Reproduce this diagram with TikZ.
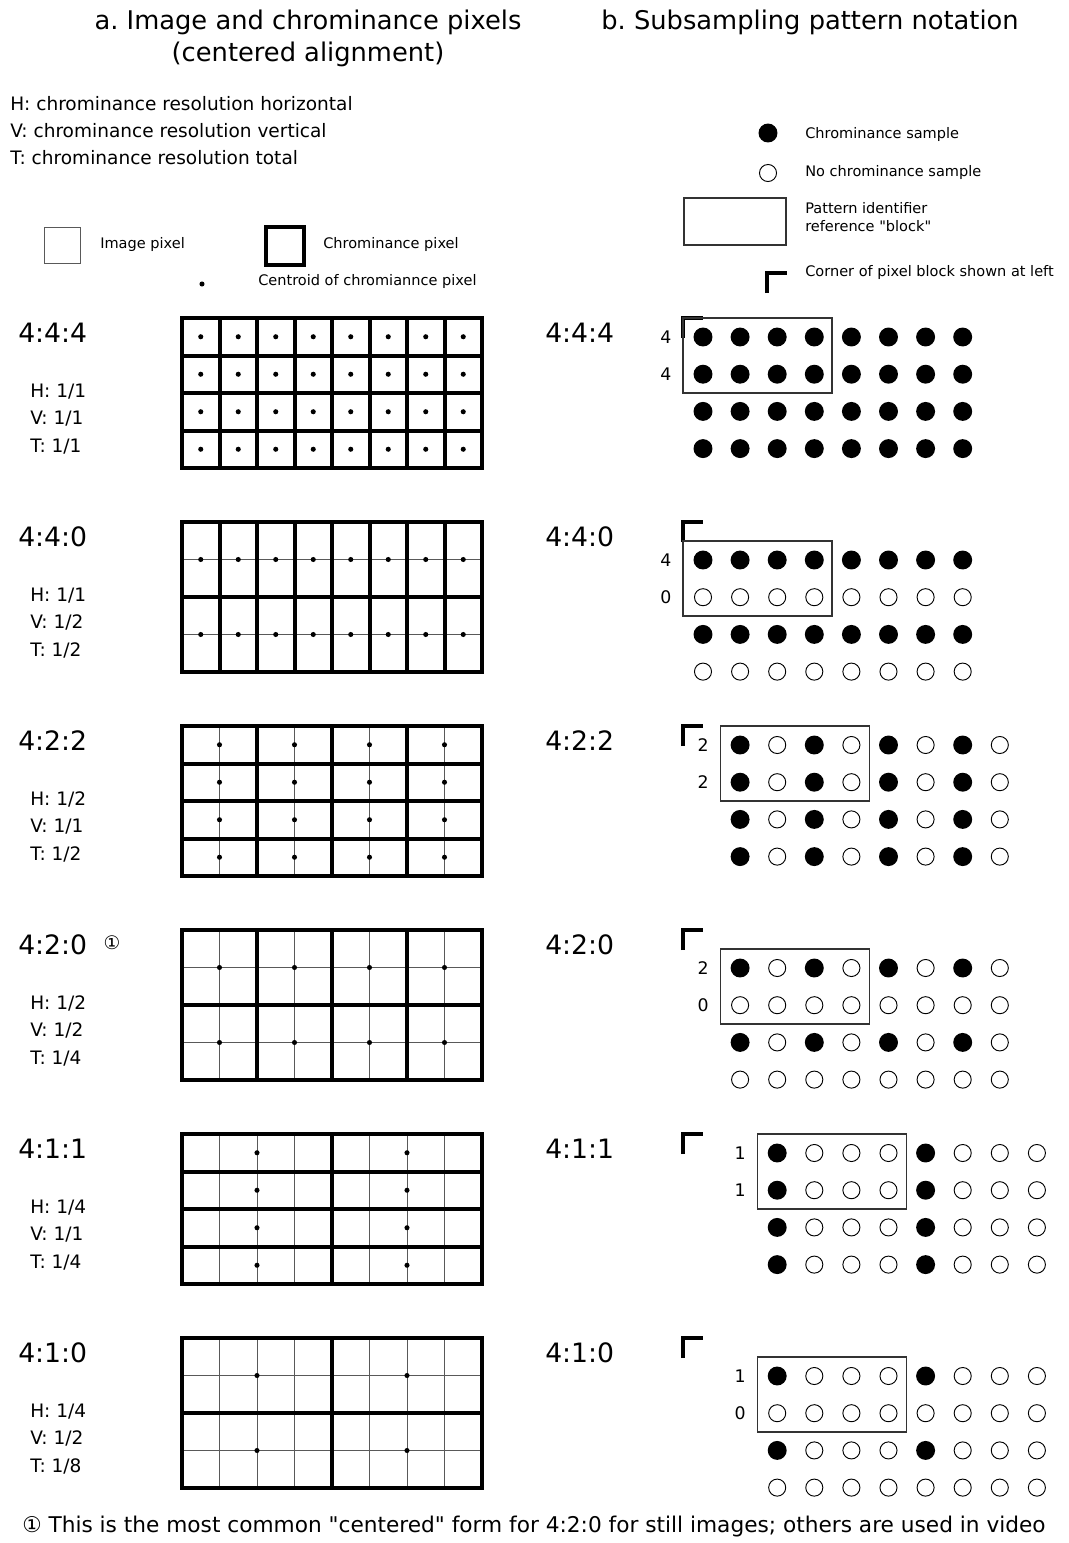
\documentclass[tikz,border=0pt]{standalone}
\usepackage{fontspec}
\newfontfamily\dv{DejaVu Sans}
\usepackage{tikz}

\begin{document}
\frenchspacing
\begin{tikzpicture}[x=0.75pt,y=-0.75pt,
  px/.style={draw=black!65,line width=0.75pt},
  cp/.style={draw=black,line width=3pt,line cap=rect},
  cen/.style={circle,fill=black,inner sep=0pt,minimum size=3.8pt},
  smp/.style={circle,fill=black,inner sep=0pt,minimum size=14.2pt},
  nosmp/.style={circle,draw=black,line width=0.7pt,inner sep=0pt,minimum size=12.8pt},
  blk/.style={draw=black!80,line width=0.8pt},
  corner/.style={draw=black,line width=2.4pt},
  ttl/.style={inner sep=0pt,anchor=base,font=\dv\fontsize{19.3}{23}\selectfont},
  txt/.style={inner sep=0pt,anchor=base west,font=\dv\fontsize{13.9}{16}\selectfont},
  sm/.style={inner sep=0pt,anchor=base west,font=\dv\fontsize{10.9}{13}\selectfont},
  pat/.style={inner sep=0pt,anchor=base west,font=\dv\fontsize{20}{24}\selectfont},
  num/.style={inner sep=0pt,font=\dv\fontsize{13}{15}\selectfont}]
  \useasboundingbox (0,0) rectangle (1068,1543);
  % titles
  \node[ttl] (ta) at (308,29) {a. Image and chrominance pixels};
  \node[ttl] (ta2) at (308,61) {(centered alignment)};
  \node[ttl] (tb) at (810,29) {b. Subsampling pattern notation};
  % legend, left
  \node[txt] (lh) at (10,110) {H: chrominance resolution horizontal};
  \node[txt] (lv) at (10,137) {V: chrominance resolution vertical};
  \node[txt] (lt) at (10,164) {T: chrominance resolution total};
  \draw[px] (44,227) rectangle (80,263);
  \node[sm] (limg) at (100,248) {Image pixel};
  \draw[draw=black,line width=3pt] (266,227) rectangle (304,265);
  \node[sm] (lchr) at (323,248) {Chrominance pixel};
  \node[cen] (lcen) at (202,284) {};
  \node[sm] (lcent) at (258,285) {Centroid of chromiannce pixel};
  % legend, right
  \node[smp] (rs) at (768,133) {};
  \node[sm] (rst) at (805,138) {Chrominance sample};
  \node[nosmp] (rn) at (768,173) {};
  \node[sm] (rnt) at (805,176) {No chrominance sample};
  \draw[blk] (684,198) rectangle (786,245);
  \node[sm] (rp1) at (805,213) {Pattern identifier};
  \node[sm] (rp2) at (805,231) {reference "block"};
  \draw[corner] (767,293) -- (767,273) -- (787,273);
  \node[sm] (rct) at (805,276) {Corner of pixel block shown at left};
  % one row per pattern 4:J:K
  \foreach \n/\cj/\ck/\hs/\vs/\sh in {0/4/4/1/1/0,1/4/0/1/2/0,2/2/2/2/1/1,3/2/0/2/2/1,4/1/1/4/1/2,5/1/0/4/2/2}{
    \pgfmathsetmacro\ty{318+204*\n}
    \pgfmathtruncatemacro\tot{\hs*\vs}
    \pgfmathtruncatemacro\nx{8/\hs-1}
    \pgfmathtruncatemacro\ny{4/\vs-1}
    \pgfmathsetmacro\xo{703+37.1*\sh}
    \pgfmathsetmacro\yo{\ty+19*\vs}
    \node[pat] (pl\n) at (18,{\ty+24}) {4:\cj:\ck};
    \node[txt] (h\n) at (30,{\ty+79}) {H: 1/\hs};
    \node[txt] (v\n) at (30,{\ty+106}) {V: 1/\vs};
    \node[txt] (t\n) at (30,{\ty+134}) {T: 1/\tot};
    \node[pat] (pr\n) at (545,{\ty+24}) {4:\cj:\ck};
    % pixel grid
    \foreach \c in {0,...,8} \draw[px] ({182+37.5*\c},\ty) -- ++(0,150);
    \foreach \r in {0,...,4} \draw[px] (182,{\ty+37.5*\r}) -- ++(300,0);
    \foreach \c in {0,\hs,...,8} \draw[cp] ({182+37.5*\c},\ty) -- ++(0,150);
    \foreach \r in {0,\vs,...,4} \draw[cp] (182,{\ty+37.5*\r}) -- ++(300,0);
    \foreach \i in {0,...,\nx} \foreach \j in {0,...,\ny}
      \node[cen] (c\n-\i-\j) at ({182+37.5*\hs*(\i+0.5)},{\ty+37.5*\vs*(\j+0.5)}) {};
    % sample pattern
    \coordinate (k\n) at (683,\ty);
    \draw[corner] (k\n) ++(0,20) -- (k\n) -- ++(20,0);
    \draw[blk] ({\xo-20},{\yo-19}) rectangle ++(149,75);
    \foreach \i in {0,...,7} \foreach \j in {0,...,3}{
      \pgfmathtruncatemacro\on{and(mod(\i,\hs)==0,mod(\j,\vs)==0)}
      \ifnum\on=1 \node[smp] (s\n-\i-\j) at ({\xo+37.1*\i},{\yo+37.2*\j}) {};
      \else \node[nosmp] (s\n-\i-\j) at ({\xo+37.1*\i},{\yo+37.2*\j}) {};\fi}
    \node[num] (a\n) at ({\xo-37},\yo) {\cj};
    \node[num] (b\n) at ({\xo-37},{\yo+37.2}) {\ck};
  }
  \node[num,font=\dv\fontsize{14}{16}\selectfont] (mk) at (112,943) {①};
  % footnote
  \node[inner sep=0pt,anchor=base west,font=\dv\fontsize{16.25}{19}\selectfont] (fn) at (22,1532) {① This is the most common "centered" form for 4:2:0 for still images; others are used in video};
\end{tikzpicture}
\end{document}
